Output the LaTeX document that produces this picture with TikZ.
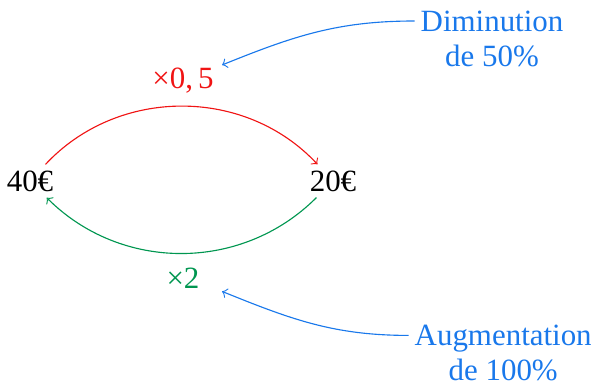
\documentclass[tikz,border=0pt]{standalone}
\usepackage{fontspec}
\setmainfont{Liberation Serif}
\usepackage{xcolor}
\usepackage{tikz}
\usetikzlibrary{arrows,positioning}

\definecolor{rouge}{RGB}{240,20,20}
\definecolor{vert}{RGB}{0,150,80}
\definecolor{bleu}{RGB}{25,120,235}

\begin{document}
\begin{tikzpicture}[
    font=\fontsize{11}{12.5}\selectfont,
    prix/.style={inner sep=2pt},
    coef/.style={inner sep=2pt},
    comment/.style={align=center, text=bleu, inner sep=2pt},
    arrow/.style={->}
]
    \useasboundingbox (0,0) rectangle (7.4,4.8125);

    \node[prix] (depart) at (0.375,2.55) {40€};
    \node[prix] (arrivee) at (4.1625,2.55) {20€};
    \node[coef, text=rouge] (baisse) at (2.2875,3.80) {×0,\,5};
    \node[coef, text=vert] (hausse) at (2.2875,1.33) {×2};
    \node[comment] (dim) at (6.15,4.33) {Diminution\\de 50\%};
    \node[comment] (aug) at (6.29,0.40) {Augmentation\\de 100\%};

    % pointes des fleches de commentaire
    \coordinate (vers baisse) at (2.775,4.0);
    \coordinate (vers hausse) at (2.775,1.17);

    \draw[arrow, rouge] (depart) to[bend left=47] (arrivee);
    \draw[arrow, vert] (arrivee) to[bend left=45] (depart);
    \draw[arrow, bleu] ([yshift=0.22cm]dim.west) to[out=180, in=22] (vers baisse);
    \draw[arrow, bleu] ([yshift=0.22cm]aug.west) to[out=180, in=-22] (vers hausse);
\end{tikzpicture}
\end{document}
